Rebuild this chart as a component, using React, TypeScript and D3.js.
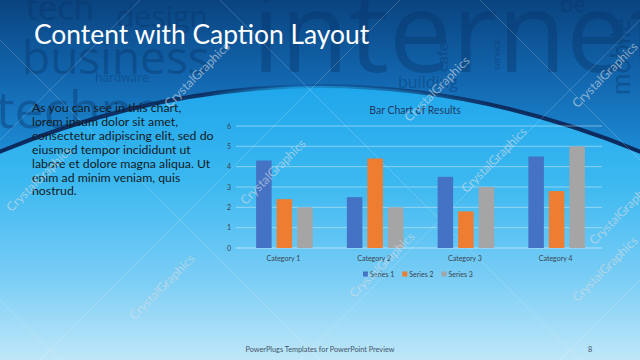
import * as d3 from 'd3';

const categories = ['Category 1', 'Category 2', 'Category 3', 'Category 4'];
const seriesNames = ['Series 1', 'Series 2', 'Series 3'];
const series1 = [4.3, 2.5, 3.5, 4.5];
const series2 = [2.4, 4.4, 1.8, 2.8];
const series3 = [2, 2, 3, 5];
const yTicks = [0, 1, 2, 3, 4, 5, 6];
const seriesColors = ['#4472c4', '#ed7d31', '#a5a5a5'];

const bodyLines = [
  'As you can see in this chart,',
  'lorem ipsum dolor sit amet,',
  'consectetur adipiscing elit, sed do',
  'eiusmod tempor incididunt ut',
  'labore et dolore magna aliqua. Ut',
  'enim ad minim veniam, quis',
  'nostrud.'
];

// background word cloud (decorative)
const cloudWords = [
  { t: 'tech', x: 26, y: 20, s: 34 },
  { t: 'design', x: 116, y: 27, s: 30 },
  { t: 'business', x: 22, y: 74, s: 46 },
  { t: 'techno', x: -4, y: 128, s: 52 },
  { t: 'hardware', x: 95, y: 82, s: 12 },
  { t: 'internet', x: 252, y: 72, s: 112 },
  { t: 'building', x: 398, y: 88, s: 16 },
  { t: 'be', x: 560, y: 12, s: 22 }
];

const watermarks = [
  [200, 78], [440, 92], [608, 78], [42, 182], [276, 175],
  [497, 163], [385, 268], [165, 290], [608, 272], [625, 215]
];

const fontMain = 'Lato, "Open Sans", sans-serif';

export default function App() {
  const W = 640;
  const H = 360;
  const x0 = d3.scaleBand<string>().domain(categories).range([238, 601]);
  const x1 = d3.scaleBand<string>().domain(seriesNames).range([0, 56.5]).paddingInner(0.244);
  const y = d3.scaleLinear().domain([0, 6]).range([248, 126]);
  const values = [series1, series2, series3];
  const groupOff = (x0.bandwidth() - 56.5) / 2 + 1;

  const arc = 'M -20 160 Q 320 12 660 160';

  return (
    <svg
      width={W}
      height={H}
      style={{ position: 'fixed', left: 0, top: 0, display: 'block' }}
      fontFamily={fontMain}
    >
      <defs>
        <linearGradient id="topBg" x1="0" y1="0" x2="0" y2="150" gradientUnits="userSpaceOnUse">
          <stop offset="0" stopColor="#0a437f" />
          <stop offset="0.5" stopColor="#1265ad" />
          <stop offset="1" stopColor="#1c8ad3" />
        </linearGradient>
        <linearGradient id="lowBg" x1="0" y1="85" x2="0" y2="360" gradientUnits="userSpaceOnUse">
          <stop offset="0" stopColor="#1fa6eb" />
          <stop offset="0.35" stopColor="#3bb8f0" />
          <stop offset="0.7" stopColor="#79cdf5" />
          <stop offset="1" stopColor="#bfe7f9" />
        </linearGradient>
        <linearGradient id="arcStroke" x1="0" y1="0" x2="1" y2="0">
          <stop offset="0" stopColor="#0b2a5c" stopOpacity="1" />
          <stop offset="0.33" stopColor="#0b2a5c" stopOpacity="0.9" />
          <stop offset="0.47" stopColor="#0b2a5c" stopOpacity="0.15" />
          <stop offset="0.62" stopColor="#0b2a5c" stopOpacity="0.5" />
          <stop offset="0.75" stopColor="#0b2a5c" stopOpacity="0.95" />
          <stop offset="1" stopColor="#0b2a5c" stopOpacity="1" />
        </linearGradient>
      </defs>

      <rect x={0} y={0} width={W} height={H} fill="url(#topBg)" />
      <g fill="#08356a" opacity={0.4}>
        {cloudWords.map((w) => (
          <text key={w.t} x={w.x} y={w.y} fontSize={w.s} fontFamily='"Open Sans", sans-serif'>
            {w.t}
          </text>
        ))}
        <text x={448} y={72} fontSize={16} transform="rotate(-90 448 72)">cafe</text>
        <text x={500} y={70} fontSize={10} transform="rotate(-90 500 70)">service</text>
        <text x={630} y={95} fontSize={26} transform="rotate(-90 630 95)">mobile</text>
      </g>

      <path d={`${arc} L 660 380 L -20 380 Z`} fill="url(#lowBg)" />
      <path d={arc} fill="none" stroke="url(#arcStroke)" strokeWidth={4} />

      {/* faint diagonal lattice */}
      <g stroke="#ffffff" strokeOpacity={0.22} strokeWidth={0.8}>
        {[-300, -40, 220, 480].map((c) => (
          <line key={'a' + c} x1={c} y1={0} x2={c + 400} y2={400} />
        ))}
        {[140, 400, 660, 920].map((c) => (
          <line key={'b' + c} x1={c} y1={0} x2={c - 400} y2={400} />
        ))}
      </g>

      <text x={34} y={44} fill="#ffffff" fontSize={26.4} fontFamily={fontMain}>
        Content with Caption Layout
      </text>

      <g fill="#141a24" fontSize={12.3}>
        {bodyLines.map((l, i) => (
          <text key={i} x={32} y={112 + i * 13.9}>
            {l}
          </text>
        ))}
      </g>

      {/* chart */}
      <text x={415} y={114} textAnchor="middle" fill="#1f3a66" fontSize={10.5}>
        Bar Chart of Results
      </text>
      <g>
        {yTicks.map((t) => (
          <g key={t}>
            <line
              x1={236}
              x2={602}
              y1={y(t)}
              y2={y(t)}
              stroke="#e3f2fb"
              strokeOpacity={t === 0 ? 0.85 : 0.6}
              strokeWidth={0.8}
            />
            <text x={229} y={y(t) + 2.5} textAnchor="middle" fontSize={7} fill="#3a4450">
              {t}
            </text>
          </g>
        ))}
      </g>
      {categories.map((c, ci) => (
        <g key={c} transform={`translate(${(x0(c) ?? 0) + groupOff},0)`}>
          {seriesNames.map((s, si) => (
            <rect
              key={s}
              x={x1(s)}
              y={y(values[si][ci])}
              width={x1.bandwidth()}
              height={y(0) - y(values[si][ci])}
              fill={seriesColors[si]}
            />
          ))}
        </g>
      ))}
      {categories.map((c) => (
        <text
          key={c}
          x={(x0(c) ?? 0) + x0.bandwidth() / 2}
          y={261}
          textAnchor="middle"
          fontSize={7}
          fill="#3a4450"
        >
          {c}
        </text>
      ))}
      <g fontSize={7} fill="#3a4450">
        {seriesNames.map((s, i) => {
          const lx = 363 + i * 39.3;
          return (
            <g key={s}>
              <rect x={lx} y={271.5} width={5} height={5} fill={seriesColors[i]} />
              <text x={lx + 7} y={276.5}>{s}</text>
            </g>
          );
        })}
      </g>

      {/* watermarks */}
      <g fill="#e8eef4" fillOpacity={0.55} stroke="#6d8aa3" strokeOpacity={0.25} strokeWidth={0.3} fontSize={12.5}>
        {watermarks.map(([cx, cy], i) => (
          <text key={i} x={cx} y={cy} textAnchor="middle" transform={`rotate(-45 ${cx} ${cy})`}>
            CrystalGraphics
          </text>
        ))}
      </g>

      <text x={320} y={352} textAnchor="middle" fontSize={7.3} fill="#44546a">
        PowerPlugs Templates for PowerPoint  Preview
      </text>
      <text x={590} y={352} textAnchor="middle" fontSize={7.3} fill="#44546a">
        8
      </text>
    </svg>
  );
}
